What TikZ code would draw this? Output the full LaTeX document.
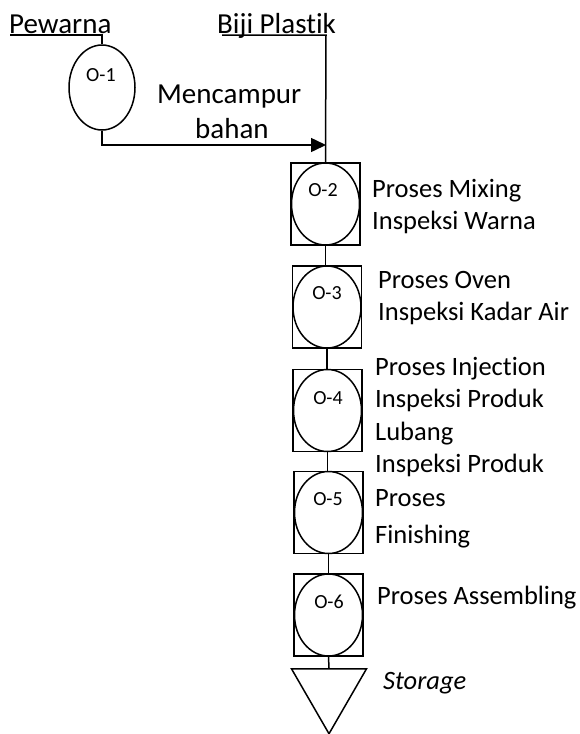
\documentclass[tikz,border=0pt]{standalone}
\usepackage{fontspec}
\setmainfont[Ligatures={NoCommon}]{Carlito}
\usetikzlibrary{shapes.geometric,arrows.meta}
\begin{document}
\begin{tikzpicture}[x=1pt,y=-1pt,
  ln/.style={line width=1.5pt},
  opbox/.style={draw,line width=1.5pt,rectangle,minimum width=69pt,minimum height=82pt,inner sep=0pt},
  opell/.style={draw,line width=1.5pt,ellipse,minimum width=68pt,minimum height=82pt,inner sep=0pt},
  oplab/.style={inner sep=0pt,font=\fontsize{20}{24}\selectfont},
  txt/.style={inner sep=0pt,anchor=base west,font=\fontsize{26.5}{31}\selectfont},
  toptxt/.style={inner sep=0pt,anchor=base west,font=\fontsize{29}{34}\selectfont}]
\useasboundingbox (0,0) rectangle (579,734);
% raw materials
\node[toptxt] (pw) at (9,33) {Pewarna};
\node[toptxt] (bp) at (217,33) {Biji Plastik};
\coordinate (pwl) at (10,35);
\coordinate (pwr) at (102,35);
\coordinate (bpl) at (222,35);
\coordinate (bpr) at (326,35);
% O-1
\node[draw,line width=1.5pt,ellipse,minimum width=66pt,minimum height=85pt,inner sep=0pt] (e1) at (102,87.5) {};
\node[oplab] (l1) at (101,75) {O-1};
\node[toptxt] (mc) at (157,103) {Mencampur};
\node[toptxt] (bh) at (195,138) {bahan};
\coordinate (c1) at (102,145);
\coordinate (j1) at (326,145);
% operations
\node[opbox] (b2) at (325.5,204) {};
\node[opell] (e2) at (325.5,204) {};
\node[oplab] (l2) at (323,190) {O-2};
\node[opbox] (b3) at (327,307) {};
\node[opell] (e3) at (327,307) {};
\node[oplab] (l3) at (327,293) {O-3};
\node[opbox] (b4) at (327.5,410.5) {};
\node[opell] (e4) at (327.5,410.5) {};
\node[oplab] (l4) at (328,398) {O-4};
\node[opbox] (b5) at (328.5,512.5) {};
\node[opell] (e5) at (328.5,512.5) {};
\node[oplab] (l5) at (328,499) {O-5};
\node[opbox] (b6) at (328.5,615) {};
\node[opell] (e6) at (328.5,615) {};
\node[oplab] (l6) at (329,602) {O-6};
% storage
\node[draw,line width=1.5pt,isosceles triangle,shape border rotate=-90,isosceles triangle apex angle=60,minimum height=65pt,inner sep=0pt,anchor=north] (st) at (329,668) {};
% texts
\node[txt] (t2a) at (372,197) {Proses Mixing};
\node[txt] (t2b) at (372,229) {Inspeksi Warna};
\node[txt] (t3a) at (378,288) {Proses Oven};
\node[txt] (t3b) at (378,320) {Inspeksi Kadar Air};
\node[txt] (t4a) at (375,375) {Proses Injection};
\node[txt] (t4b) at (375,407) {Inspeksi Produk};
\node[txt] (t4c) at (375,440) {Lubang};
\node[txt] (t5a) at (375,472) {Inspeksi Produk};
\node[txt] (t5b) at (375,506) {Proses};
\node[txt] (t5c) at (375,543) {Finishing};
\node[txt] (t6a) at (377,604) {Proses Assembling};
\node[txt,font=\fontsize{26.5}{31}\selectfont\itshape] (tst) at (383,689) {Storage};
% connectors
\draw[ln] (pwl) -- (pwr) -- (e1.north);
\draw[ln] (bpl) -- (bpr) -- (b2.north);
\draw[ln,-{Triangle[length=15pt,width=14pt]}] (e1.south) -- (c1) -- (j1);
\draw[ln] (b2.south) -- (b2.south |- b3.north);
\draw[ln] (b3.south) -- (b3.south |- b4.north);
\draw[ln] (b4.south) -- (b4.south |- b5.north);
\draw[ln] (b5.south) -- (b5.south |- b6.north);
\draw[ln] (b6.south) -- (st.north);
\end{tikzpicture}
\end{document}
